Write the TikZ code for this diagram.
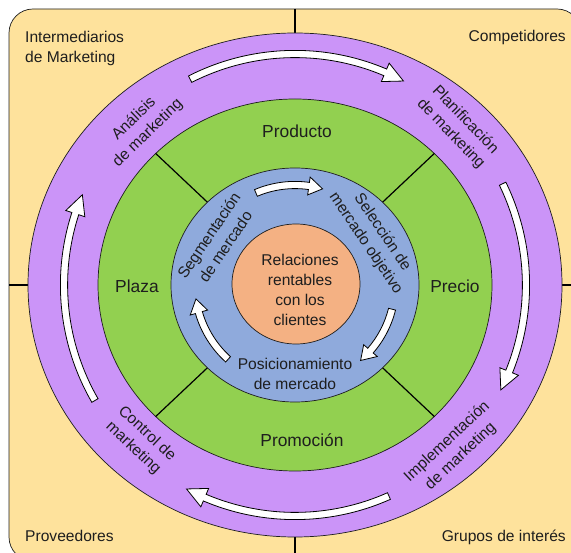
\documentclass[tikz,border=0pt]{standalone}
\usepackage{fontspec}
\setmainfont{Liberation Sans}
\definecolor{envfill}{HTML}{FEE29C}
\definecolor{ringpurple}{HTML}{CB94F8}
\definecolor{mixgreen}{HTML}{92D050}
\definecolor{stratblue}{HTML}{8FAADC}
\definecolor{coreorange}{HTML}{F4B183}
\definecolor{inkgray}{HTML}{1E1E1E}

% curved block arrow on a circle of radius #1 around the origin,
% running clockwise from angle #2 to angle #3;
% #4 shaft half width, #5 head half width, #6 head length in degrees
\newcommand\ringarrow[6]{%
  \filldraw[blockarrow]
    ({#2}:{#1+#4}) arc[start angle={#2}, end angle={#3+#6}, radius={#1+#4}]
    -- ({#3+#6}:{#1+#5}) -- ({#3}:{#1}) -- ({#3+#6}:{#1-#5})
    -- ({#3+#6}:{#1-#4})
    arc[start angle={#3+#6}, end angle={#2}, radius={#1-#4}] -- cycle;}

\begin{document}
\begin{tikzpicture}[x=1pt,y=1pt,
  outline/.style={draw=inkgray, line width=0.7pt},
  divider/.style={draw=black, line width=1.2pt},
  blockarrow/.style={fill=white, draw=black, line width=0.8pt, line join=miter},
  txt/.style={text=inkgray, inner sep=0pt, font=\fontsize{15.6}{20}\selectfont},
  mixlbl/.style={text=inkgray, inner sep=0pt, font=\fontsize{17.4}{21}\selectfont},
  ringlbl/.style={txt, align=center}]
\useasboundingbox (0,0) rectangle (571,-553);
\begin{scope}
\clip (0,0) rectangle (571,-553);

% environment background
\draw[outline, fill=envfill, rounded corners=24pt] (9,-9) rectangle (581,-561);

% quadrant separators
\draw[divider] (295,-9) -- (295,-33);
\draw[divider] (295,-537) -- (295,-561);
\draw[divider] (9,-285) -- (28,-285);
\draw[divider] (562,-285) -- (581,-285);

% process ring
\draw[outline, fill=ringpurple] (295,-285) ellipse [x radius=267, y radius=252];
% marketing mix ring
\draw[outline, fill=mixgreen] (295,-285) ellipse [x radius=197, y radius=186];
\begin{scope}[shift={(295,-285)}]
  \foreach \t in {45,135,225,315}
    \draw[divider] ({110*cos(\t)},{104*sin(\t)}) -- ({197*cos(\t)},{186*sin(\t)});
\end{scope}
% strategy ring
\draw[outline, fill=stratblue] (295,-285) ellipse [x radius=124, y radius=117];
% core
\draw[outline, fill=coreorange] (296,-284) ellipse [x radius=64, y radius=60];

% cycle arrows
\begin{scope}[shift={(295,-285)}]
  \ringarrow{231}{117}{62}{3.6}{10}{5}
  \ringarrow{231}{26}{-27}{3.6}{10}{5}
  \ringarrow{231}{-66}{-118}{3.6}{10}{5}
  \ringarrow{231}{-150}{-203}{3.6}{10}{5}
  \ringarrow{100}{113}{74}{3.6}{9}{8}
  \ringarrow{100}{-14}{-49}{3.6}{9}{8}
  \ringarrow{100}{-132}{-172}{3.6}{9}{8}
\end{scope}

% environment actors
\node[txt, align=left, anchor=west] (intermediarios) at (25,-48) {Intermediarios\\de Marketing};
\node[txt, anchor=base east] (competidores) at (566,-42) {Competidores};
\node[txt, anchor=base west] (proveedores) at (25,-542) {Proveedores};
\node[txt, anchor=base east] (grupos) at (566,-542) {Grupos de interés};

% marketing process
\node[ringlbl, rotate=44] (analisis) at (141,-126) {Análisis\\de marketing};
\node[ringlbl, rotate=-46] (planificacion) at (458,-127) {Planificación\\de marketing};
\node[ringlbl, rotate=43] (implementacion) at (454,-449) {Implementación\\de marketing};
\node[ringlbl, rotate=-43] (control) at (140,-441) {Control de\\marketing};

% marketing mix
\node[mixlbl] (producto) at (297,-131) {Producto};
\node[mixlbl] (plaza) at (137,-286) {Plaza};
\node[mixlbl] (precio) at (455,-286) {Precio};
\node[mixlbl] (promocion) at (302,-440) {Promoción};

% strategy
\node[ringlbl, rotate=56] (segmentacion) at (217,-241) {Segmentación\\de mercado};
\node[ringlbl, rotate=-56] (seleccion) at (374,-238) {Selección de\\mercado objetivo};
\node[ringlbl] (posicionamiento) at (295,-374) {Posicionamiento\\de mercado};

% core
\node[ringlbl] (relaciones) at (300,-290) {Relaciones\\rentables\\con los\\clientes};
\end{scope}
\end{tikzpicture}
\end{document}
